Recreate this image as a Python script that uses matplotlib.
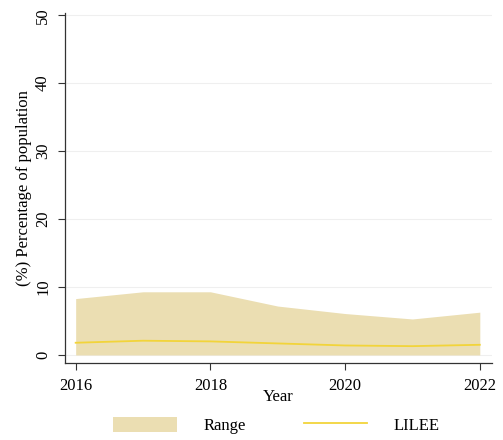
import matplotlib.pyplot as plt
from matplotlib.patches import Patch
from matplotlib.lines import Line2D

plt.rcParams['font.family'] = ['Liberation Serif', 'DejaVu Serif']

# Data
years = [2016, 2017, 2018, 2019, 2020, 2021, 2022]
range_low = [0, 0, 0, 0, 0, 0, 0]
range_high = [8.3, 9.3, 9.3, 7.2, 6.1, 5.3, 6.3]
lilee = [1.8, 2.1, 2.0, 1.7, 1.4, 1.3, 1.5]

x_ticks = [2016, 2018, 2020, 2022]
y_ticks = [0, 10, 20, 30, 40, 50]

fill_col = '#ebdeb2'
line_col = '#f2d43a'

fig = plt.figure(figsize=(5.03, 4.40), dpi=100)
ax = fig.add_axes([0.129, 0.175, 0.849, 0.795])

ax.fill_between(years, range_low, range_high, color=fill_col, lw=0, zorder=2)
ax.plot(years, lilee, color=line_col, lw=1.3, zorder=3)

ax.set_xlim(2015.84, 2022.18)
ax.set_ylim(-1.18, 50.3)
ax.set_xticks(x_ticks)
ax.set_yticks(y_ticks)
ax.set_yticklabels([str(v) for v in y_ticks], rotation=90, va='center')
ax.tick_params(axis='both', labelsize=12, length=5, width=0.8, color='#333333')
ax.tick_params(axis='x', pad=6)
ax.tick_params(axis='y', pad=5)

for y in y_ticks:
    ax.axhline(y, color='#efefef', lw=0.8, zorder=1)

for s in ['top', 'right']:
    ax.spines[s].set_visible(False)
for s in ['left', 'bottom']:
    ax.spines[s].set_color('#333333')
    ax.spines[s].set_linewidth(0.9)

ax.set_xlabel('Year', fontsize=12, labelpad=-4)
ax.set_ylabel('(%) Percentage of population', fontsize=12, labelpad=2)

handles = [Patch(facecolor=fill_col, edgecolor='none', label='Range'),
           Line2D([0], [0], color=line_col, lw=1.3, label='LILEE')]
fig.legend(handles=handles, loc='center', bbox_to_anchor=(0.55, 0.033), ncol=2,
           frameon=False, fontsize=12, handlelength=3.8, handleheight=1.0,
           handletextpad=1.6, columnspacing=3.5)

fig.savefig('out.png', dpi=100)
